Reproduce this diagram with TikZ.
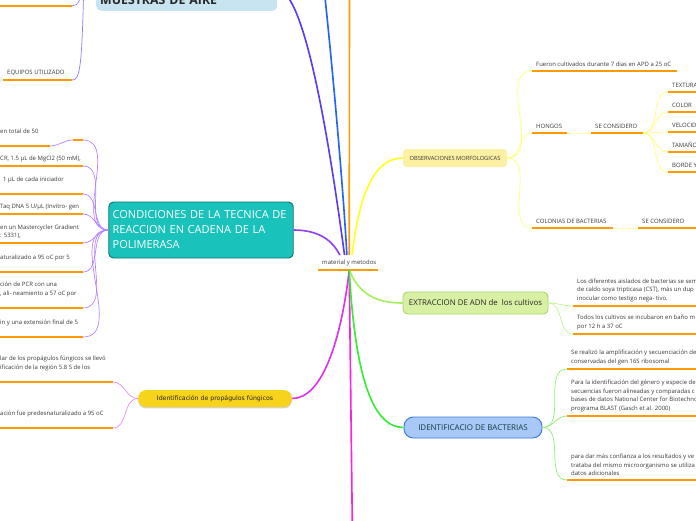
\documentclass[tikz,border=0pt]{standalone}
\usepackage{fontspec}
\setmainfont{Open Sans}
\newfontfamily\verdfont{DejaVu Sans}
\usetikzlibrary{shadows}
\definecolor{ulorange}{HTML}{FF9A00}
\definecolor{brviolet}{HTML}{5B3CF0}
\definecolor{brblue}{HTML}{2262FF}
\definecolor{bryellow}{HTML}{FFFF22}
\definecolor{subyellow}{HTML}{FFFF77}
\definecolor{brpurple}{HTML}{9340F0}
\definecolor{subpurple}{HTML}{B585FF}
\definecolor{brmagenta}{HTML}{DD33EE}
\definecolor{submagenta}{HTML}{EC8CF2}
\definecolor{brpink}{HTML}{FF22DD}
\definecolor{brlime}{HTML}{A6F060}
\definecolor{sublime}{HTML}{C0F590}
\definecolor{brgreen}{HTML}{33EE33}
\definecolor{subgreen}{HTML}{8CEE70}
\definecolor{sublav}{HTML}{8C7CFF}
\definecolor{tealfill}{HTML}{19C3BB}
\definecolor{tealline}{HTML}{0E726C}
\definecolor{obsfill}{HTML}{FCF0A2}
\definecolor{extrfill}{HTML}{D8F0A4}
\definecolor{extrline}{HTML}{A8D86C}
\definecolor{identfill}{HTML}{A8C8F8}
\definecolor{identline}{HTML}{3C7AE0}
\definecolor{identtext}{HTML}{10403A}
\definecolor{pillfill}{HTML}{F7D31C}
\definecolor{airfill}{HTML}{C8E4F0}
\begin{document}
\begin{tikzpicture}[x=0.03cm, y=-0.03cm,
  leaf/.style={anchor=south west, inner xsep=0.12cm, inner ysep=3.6pt, align=left,
    font=\fontsize{5.1}{7.2}\selectfont, text=black!78},
  uline/.style={draw=ulorange, line width=1.3pt},
  main/.style={line width=1.4pt},
  sub/.style={line width=0.6pt},
  conn/.style={out=0, in=180}]
\useasboundingbox (0,0) rectangle (696,520);
\clip (0,0) rectangle (696,520);

% main topic boxes
\node[fill=airfill, rounded corners=4pt, anchor=south west, inner xsep=0.12cm, inner ysep=0.18cm,
  text width=5.19cm, align=left, text height=0.9cm, text depth=0pt,
  font=\fontsize{10.5}{12}\selectfont\bfseries, text=black!85] (muestras) at (96,11) {MUESTRAS DE AIRE};
\node[fill=tealfill, draw=tealline, line width=0.8pt, rounded corners=4pt, minimum width=5.46cm,
  minimum height=1.68cm, text width=5.3cm, align=left, text=white,
  font=\fontsize{9.4}{12.8}\selectfont] (cond) at (201,230)
  {CONDICIONES DE LA TECNICA DE\\REACCION EN CADENA DE LA\\POLIMERASA};
\node[fill=pillfill, rounded corners=7pt, minimum width=4.62cm, minimum height=0.51cm,
  drop shadow={opacity=0.35, shadow xshift=0pt, shadow yshift=-1.2pt},
  font=\verdfont\fontsize{5.3}{6}\selectfont, text=black!85] (pill) at (215,398.5)
  {Identificación de propágulos fúngicos};
\node[fill=obsfill, rounded corners=3pt, minimum width=3.12cm, minimum height=0.54cm,
  font=\fontsize{4.9}{6}\selectfont, text=black!78] (obs) at (455,158) {OBSERVACIONES MORFOLOGICAS};
\node[fill=extrfill, draw=extrline, line width=0.8pt, rounded corners=4pt, minimum width=4.35cm,
  minimum height=0.66cm, font=\fontsize{6.7}{7}\selectfont, text=black!85] (extr) at (475.5,303)
  {EXTRACCION DE ADN de\ \ los cultivos};
\node[fill=identfill, draw=identline, line width=0.8pt, rounded corners=8pt, minimum width=4.14cm,
  minimum height=0.63cm, font=\fontsize{6.8}{7}\selectfont, text=identtext] (ident) at (473,427.5)
  {IDENTIFICACIO DE BACTERIAS};

% central topic
\node[leaf] (mym) at (318,270) {material y metodos};
\draw[uline] (mym.south west) -- ++(60,0);
\coordinate (blueTop) at (322,-30);
\coordinate (orangeTop) at (349.5,-30);
\coordinate (pinkBot) at (352.5,540);

% branches of the central topic
\draw[main, brviolet] ([xshift=-4pt]mym.north) .. controls +(-14,-104) and +(28,0) .. (muestras.east);
\draw[main, brblue] ([xshift=-2pt]mym.north) .. controls +(-4,-74) and +(8,70) .. (blueTop);
\draw[main, ulorange] (mym.north) -- (orangeTop);
\draw[main, bryellow] ([xshift=2.5pt]mym.north) .. controls +(8,-70) and +(-25,0) .. (obs.west);
\draw[main, brpurple] (cond.east) .. controls +(30,0) and +(-5,-10) .. ([xshift=-8pt]mym.north);
\draw[main, brmagenta] (mym.south) .. controls +(-8,70) and +(30,0) .. (pill.east);
\draw[main, brpink] (mym.south) -- (pinkBot);
\draw[main, brlime] (mym.south) .. controls +(10,25) and +(-25,0) .. (extr.west);
\draw[main, brgreen] (mym.south) .. controls +(6,110) and +(-30,0) .. (ident.west);

% MUESTRAS DE AIRE
\coordinate (eqParent) at (84,-25);
\node[leaf] (topcut) at (-2,6) {};
\draw[uline] (topcut.south west) -- ++(74,0) coordinate (topcutR);
\node[leaf] (equipos) at (3,80) {EQUIPOS UTILIZADO};
\draw[uline] (equipos.south west) -- ++(69,0) coordinate (equiposR);
\draw[sub, sublav] (eqParent) .. controls +(-2,25) and +(6,0) .. (topcutR);
\draw[sub, sublav] (eqParent) .. controls +(-2,95) and +(8,0) .. (equiposR);

% CONDICIONES DE LA TECNICA
\node[leaf] (small) at (73,140) {};
\draw[uline] (small.south west) -- ++(10,0) coordinate (smallR);
\node[leaf] (total) at (-4,146) {en total de 50\\\mbox{}};
\draw[uline] (total.south west) -- ++(54,0) coordinate (totalR);
\node[leaf] (mgcl) at (-4,166) {CR, 1.5 µL de MgCl2 (50 mM),};
\draw[uline] (mgcl.south west) -- ++(87,0) coordinate (mgclR);
\node[leaf] (inic) at (-1,194) {1 µL de cada iniciador\\\mbox{}};
\draw[uline] (inic.south west) -- ++(84,0) coordinate (inicR);
\node[leaf] (taq) at (-4,214) {Taq DNA 5 U/µL (Invitro- gen};
\draw[uline] (taq.south west) -- ++(87,0) coordinate (taqR);
\node[leaf] (master) at (-4,243) {en un Mastercycler Gradient\\: 5331),};
\draw[uline] (master.south west) -- ++(87,0) coordinate (masterR);
\node[leaf] (desnat) at (-4,272) {aturalizado a 95 oC por 5\\\mbox{}};
\draw[uline] (desnat.south west) -- ++(87,0) coordinate (desnatR);
\node[leaf] (pcr) at (-4,308) {ción de PCR con una\\, ali- neamiento a 57 oC por\\\mbox{}};
\draw[uline] (pcr.south west) -- ++(87,0) coordinate (pcrR);
\node[leaf] (extfin) at (-4,337) {in y una extensión final de 5\\\mbox{}};
\draw[uline] (extfin.south west) -- ++(87,0) coordinate (extfinR);
\draw[sub, subpurple] (totalR) to[conn] (small.south west);
\foreach \n in {smallR, mgclR, inicR, taqR, masterR, desnatR, pcrR, extfinR}
  \draw[sub, subpurple] (\n) to[conn] (cond.west);

% Identificacion de propagulos
\node[leaf] (llevo) at (-4,382) {lar de los propágulos fúngicos se llevó\\ificación de la región 5.8 S de los\\\mbox{}};
\draw[uline] (llevo.south west) -- ++(117,0) coordinate (llevoR);
\node[leaf] (predes) at (-4,428) {ación fue predesnaturalizado a 95 oC\\\mbox{}};
\draw[uline] (predes.south west) -- ++(117,0) coordinate (predesR);
\draw[sub, submagenta] (llevoR) to[conn] (pill.west);
\draw[sub, submagenta] (predesR) to[conn] (pill.west);

% OBSERVACIONES MORFOLOGICAS
\node[leaf] (fueron) at (532,71) {Fueron cultivados durante 7 dias en APD a 25 oC};
\draw[uline] (fueron.south west) -- ++(145,0);
\node[leaf] (hongos) at (532,133) {HONGOS};
\draw[uline] (hongos.south west) -- ++(35,0) coordinate (hongosR);
\node[leaf] (secons) at (591,133) {SE CONSIDERO};
\draw[uline] (secons.south west) -- ++(52,0) coordinate (seconsR);
\node[leaf] (textura) at (668,92) {TEXTURA};
\node[leaf] (color) at (668,112) {COLOR};
\node[leaf] (veloc) at (668,132) {VELOCIDAD};
\node[leaf] (tamano) at (668,152) {TAMAÑO};
\node[leaf] (borde) at (668,172) {BORDE Y};
\node[leaf] (colonias) at (532,228) {COLONIAS DE BACTERIAS};
\draw[uline] (colonias.south west) -- ++(81,0) coordinate (coloniasR);
\node[leaf] (seconsb) at (638,228) {SE CONSIDERO};
\draw[uline] (seconsb.south west) -- ++(70,0);
\foreach \n in {textura, color, veloc, tamano, borde}
  \draw[uline] (\n.south west) -- ++(40,0);
\foreach \n in {fueron, hongos, colonias}
  \draw[sub, subyellow] (obs.east) to[conn] (\n.south west);
\draw[sub, subyellow] (hongosR) to[conn] (secons.south west);
\foreach \n in {textura, color, veloc, tamano, borde}
  \draw[sub, subyellow] (seconsR) to[conn] (\n.south west);
\draw[sub, subyellow] (coloniasR) to[conn] (seconsb.south west);

% EXTRACCION DE ADN
\node[leaf] (aislados) at (573,306) {Los diferentes aislados de bacterias se sem\\de caldo soya tripticasa (CST), más un dup\\inocular como testigo nega- tivo.};
\draw[uline] (aislados.south west) -- ++(130,0);
\node[leaf] (todos) at (573,334) {Todos los cultivos se incubaron en baño m\\por 12 h a 37 oC};
\draw[uline] (todos.south west) -- ++(130,0);
\draw[sub, sublime] (extr.east) to[conn] (aislados.south west);
\draw[sub, sublime] (extr.east) to[conn] (todos.south west);

% IDENTIFICACIO DE BACTERIAS
\node[leaf] (amplif) at (567,369) {Se realizó la amplificación y secuenciación de\\conservadas del gen 16S ribosomal};
\draw[uline] (amplif.south west) -- ++(130,0);
\node[leaf] (genero) at (567,416) {Para la identificación del género y especie de\\secuencias fueron alineadas y comparadas c\\bases de datos National Center for Biotechno\\programa BLAST (Gasch et al. 2000)};
\draw[uline] (genero.south west) -- ++(130,0);
\node[leaf] (confianza) at (567,480) {para dar más confianza a los resultados y ve\\trataba del mismo microorganismo se utiliza\\datos adicionales};
\draw[uline] (confianza.south west) -- ++(130,0);
\foreach \n in {amplif, genero, confianza}
  \draw[sub, subgreen] (ident.east) to[conn] (\n.south west);
\end{tikzpicture}
\end{document}
